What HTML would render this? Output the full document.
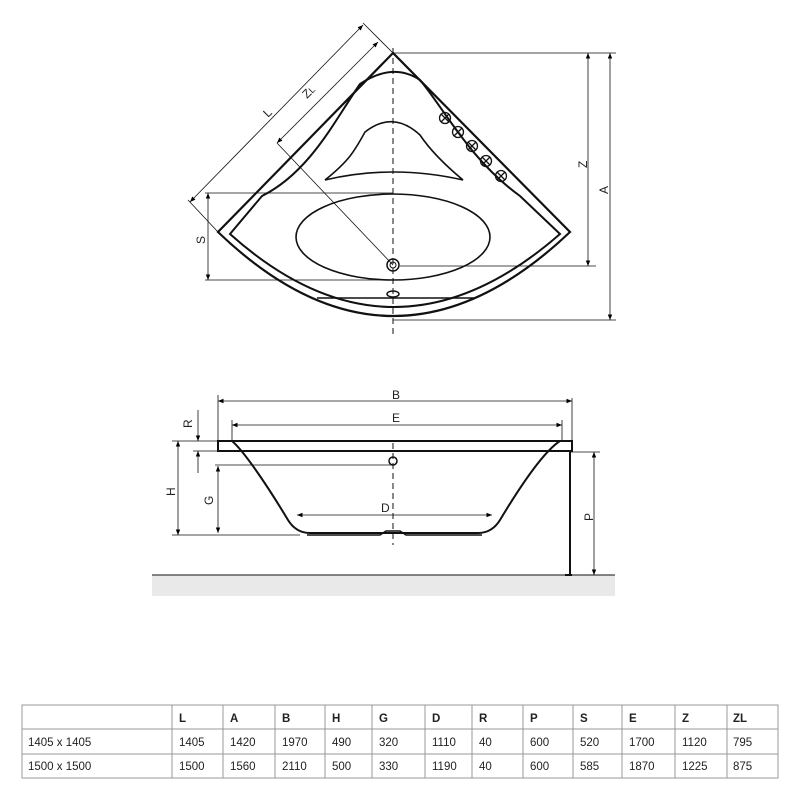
<!DOCTYPE html>
<html><head><meta charset="utf-8"><style>
html,body{margin:0;padding:0;background:#fff;}
svg{display:block;font-family:"Liberation Sans",sans-serif;}
</style></head><body>
<svg width="800" height="800" viewBox="0 0 800 800" xmlns="http://www.w3.org/2000/svg">
<defs>
<marker id="a" viewBox="0 0 10 10" refX="10" refY="5" markerWidth="7" markerHeight="7" orient="auto-start-reverse"><path d="M0,1 L10,5 L0,9 z" fill="#000"/></marker>
</defs>
<g fill="none" stroke="#111">
<path d="M393,53 L218,232 Q393,400 570,232 Z" stroke-width="2.2"/>
<path d="M230,234 L262,196 C310,172 335,120 360,84 Q393,62 420,80 C445,110 470,160 520,196 L560,234 Q393,380 230,234 Z" stroke-width="2"/>
<path d="M317,298 L475,298" stroke-width="1.5"/>
<path d="M325,180 C350,160 355,150 365,132 Q393,110 420,135 C430,150 445,165 463,180 Q393,164 325,180 Z" stroke-width="1.6"/>
<ellipse cx="393" cy="237" rx="97" ry="43" stroke-width="1.6"/>
<circle cx="393" cy="265" r="6" stroke-width="1.5"/><circle cx="393" cy="265" r="3" stroke-width="1"/>
<ellipse cx="393" cy="294" rx="6" ry="3" stroke-width="1.5"/>
<g stroke-width="1.3">
<circle cx="445" cy="118" r="5.5"/><circle cx="458" cy="132" r="5.5"/><circle cx="472" cy="146" r="5.5"/><circle cx="486" cy="161" r="5.5"/><circle cx="501" cy="176" r="5.5"/>
<path d="M441,114l8,8M449,114l-8,8M454,128l8,8M462,128l-8,8M468,142l8,8M476,142l-8,8M482,157l8,8M490,157l-8,8M497,172l8,8M505,172l-8,8"/>
</g>
<path d="M393,48 L393,335" stroke-width="1" stroke-dasharray="6,4"/>
<g stroke-width="0.8">
<path d="M190,202 L363,25" marker-start="url(#a)" marker-end="url(#a)"/>
<path d="M277,143 L378,42" marker-start="url(#a)" marker-end="url(#a)"/>
<path d="M188,200 L218,232 M363,23 L393,53 M277,143 L393,265"/>
<path d="M393,53 L616,53 M400,266 L596,266 M393,320 L616,320 M205,193 L393,193 M205,280 L393,280"/>
<path d="M588,53 L588,266" marker-start="url(#a)" marker-end="url(#a)"/>
<path d="M610,53 L610,320" marker-start="url(#a)" marker-end="url(#a)"/>
<path d="M208,193 L208,280" marker-start="url(#a)" marker-end="url(#a)"/>
</g>
<rect x="152" y="575" width="463" height="21" fill="#e9e9e9" stroke="none"/>
<path d="M152,575 L615,575" stroke-width="1"/>
<path d="M218,441 L572,441 L572,451 L218,451 Z" stroke-width="2"/>
<path d="M232,441 C245,452 270,490 288,520 Q296,533 310,533 L478,533 Q492,533 500,520 C518,490 543,452 560,441" stroke-width="2"/>
<path d="M307,535 L380,535 L386,531 L400,531 L406,535 L482,535" stroke-width="1.5"/>
<path d="M570,451 L570,575 M565,451 L572,451 M565,575 L572,575" stroke-width="2"/>
<circle cx="393" cy="461" r="4" stroke-width="1.5"/>
<path d="M393,443 L393,545" stroke-width="1" stroke-dasharray="6,4"/>
<g stroke-width="0.8">
<path d="M218,401 L572,401" marker-start="url(#a)" marker-end="url(#a)"/>
<path d="M232,425 L562,425" marker-start="url(#a)" marker-end="url(#a)"/>
<path d="M218,395 L218,441 M572,398 L572,441 M232,420 L232,441 M562,420 L562,441"/>
<path d="M172,441 L232,441 M172,535 L300,535 M193,451 L218,451 M215,465 L393,465 M570,452 L600,452"/>
<path d="M178,441 L178,535" marker-start="url(#a)" marker-end="url(#a)"/>
<path d="M198,410 L198,441" marker-end="url(#a)"/>
<path d="M198,473 L198,451" marker-end="url(#a)"/>
<path d="M218,466 L218,533" marker-start="url(#a)" marker-end="url(#a)"/>
<path d="M297,515 L492,515" marker-start="url(#a)" marker-end="url(#a)"/>
<path d="M594,452 L594,575" marker-start="url(#a)" marker-end="url(#a)"/>
</g>
</g>
<g font-size="12" fill="#222">
<text x="392" y="399">B</text>
<text x="392" y="422">E</text>
<text x="381" y="512">D</text>
<text transform="translate(192,428) rotate(-90)">R</text>
<text transform="translate(175,496) rotate(-90)">H</text>
<text transform="translate(213,505) rotate(-90)">G</text>
<text transform="translate(593,521) rotate(-90)">P</text>
<text transform="translate(587,168) rotate(-90)">Z</text>
<text transform="translate(608,194) rotate(-90)">A</text>
<text transform="translate(205,244) rotate(-90)">S</text>
<text transform="translate(268,118) rotate(-45)">L</text>
<text transform="translate(307,99) rotate(-45)">Z<tspan font-size="9">L</tspan></text>
</g>
<g stroke="#999" stroke-width="1" fill="none">
<rect x="22" y="705" width="756" height="73"/>
<path d="M22,729 L778,729 M22,754 L778,754"/>
<path d="M172,705V778M223,705V778M275,705V778M325,705V778M372,705V778M425,705V778M472,705V778M523,705V778M573,705V778M622,705V778M675,705V778M727,705V778"/>
</g>
<g font-size="11.5" fill="#222">
<g font-weight="bold">
<text x="179" y="722">L</text><text x="230" y="722">A</text><text x="282" y="722">B</text><text x="332" y="722">H</text><text x="379" y="722">G</text><text x="432" y="722">D</text><text x="479" y="722">R</text><text x="530" y="722">P</text><text x="580" y="722">S</text><text x="629" y="722">E</text><text x="682" y="722">Z</text><text x="733" y="722">ZL</text>
</g>
<text x="28" y="746">1405 x 1405</text>
<text x="179" y="746">1405</text><text x="230" y="746">1420</text><text x="282" y="746">1970</text><text x="332" y="746">490</text><text x="379" y="746">320</text><text x="432" y="746">1110</text><text x="479" y="746">40</text><text x="530" y="746">600</text><text x="580" y="746">520</text><text x="629" y="746">1700</text><text x="682" y="746">1120</text><text x="733" y="746">795</text>
<text x="28" y="770">1500 x 1500</text>
<text x="179" y="770">1500</text><text x="230" y="770">1560</text><text x="282" y="770">2110</text><text x="332" y="770">500</text><text x="379" y="770">330</text><text x="432" y="770">1190</text><text x="479" y="770">40</text><text x="530" y="770">600</text><text x="580" y="770">585</text><text x="629" y="770">1870</text><text x="682" y="770">1225</text><text x="733" y="770">875</text>
</g>
</svg>
</body></html>
